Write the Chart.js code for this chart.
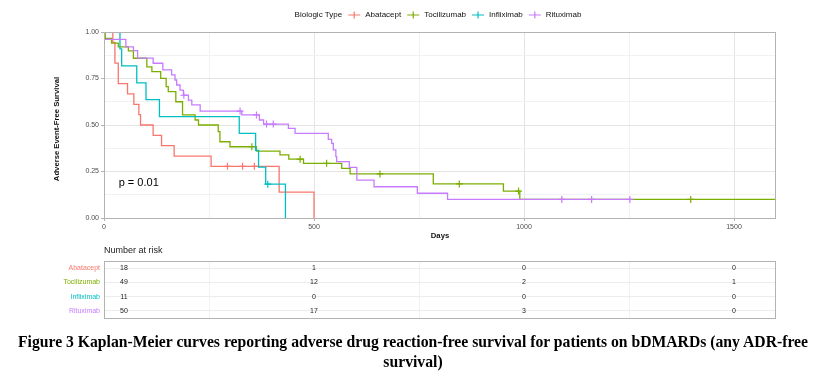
<!DOCTYPE html>
<html>
<head>
<meta charset="utf-8">
<script src="https://cdn.jsdelivr.net/npm/chart.js@4.4.0/dist/chart.umd.min.js"></script>
<style>
  body { margin: 0; background: #fff; }
  #wrap { position: relative; width: 826px; height: 376px; }
  #kmChart { position: absolute; left: 0; top: 0; }
  #riskChart { position: absolute; left: 0; top: 240px; }
  #caption {
    position: absolute; left: 0; top: 332px; width: 826px;
    text-align: center; white-space: nowrap; color: #000;
    font: bold 15.7px "Liberation Serif", "Times New Roman", serif; line-height: 20px;
  }
</style>
</head>
<body>
<div id="wrap">
  <canvas id="kmChart" width="826" height="245"></canvas>
  <canvas id="riskChart" width="826" height="90"></canvas>
  <div id="caption">Figure 3 Kaplan-Meier curves reporting adverse drug reaction-free survival for patients on bDMARDs (any ADR-free<br>survival)</div>
</div>
<script>
// Kaplan-Meier: adverse event-free survival by biologic type
const groups = ['Abatacept', 'Tocilizumab', 'Infliximab', 'Rituximab'];
const groupColors = ['#F8766D', '#7CAE00', '#00BFC4', '#C77CFF'];

// step curves: day of each step and survival after it
const abataceptDays = [0, 21, 26, 34, 56, 71, 83, 87, 117, 137, 167, 255, 417, 500];
const abataceptSurv = [1, 0.944, 0.833, 0.722, 0.667, 0.611, 0.556, 0.5, 0.444, 0.389, 0.333, 0.278, 0.139, 0];
const abataceptCensorDays = [294, 330, 358];
const abataceptCensorSurv = [0.278, 0.278, 0.278];

const tocilizumabDays = [0, 3, 18, 34, 58, 70, 102, 114, 135, 148, 153, 171, 187, 217, 225, 272, 276, 300, 363, 419, 440, 475, 566, 586, 784, 951, 990, 1600];
const tocilizumabSurv = [1, 0.966, 0.94, 0.92, 0.898, 0.859, 0.813, 0.787, 0.751, 0.706, 0.679, 0.625, 0.554, 0.527, 0.5, 0.464, 0.41, 0.383, 0.36, 0.339, 0.316, 0.294, 0.267, 0.237, 0.183, 0.145, 0.1, 0.1];
const tocilizumabCensorDays = [352, 467, 530, 657, 846, 987, 1397];
const tocilizumabCensorSurv = [0.383, 0.316, 0.294, 0.237, 0.183, 0.145, 0.1];

const infliximabDays = [0, 38, 42, 78, 100, 132, 322, 361, 368, 385, 432];
const infliximabSurv = [1, 0.909, 0.818, 0.727, 0.636, 0.545, 0.455, 0.364, 0.273, 0.182, 0];
const infliximabCensorDays = [390];
const infliximabCensorSurv = [0.182];

const rituximabDays = [0, 52, 70, 80, 117, 140, 161, 169, 173, 181, 189, 201, 209, 229, 328, 370, 380, 439, 455, 534, 542, 546, 552, 554, 584, 602, 643, 746, 818, 1252];
const rituximabSurv = [0.96, 0.92, 0.9, 0.86, 0.832, 0.796, 0.769, 0.742, 0.715, 0.688, 0.66, 0.634, 0.608, 0.575, 0.554, 0.527, 0.505, 0.482, 0.455, 0.423, 0.401, 0.366, 0.33, 0.303, 0.272, 0.204, 0.168, 0.133, 0.1, 0.1];
const rituximabCensorDays = [190, 324, 363, 387, 403, 1090, 1161, 1252];
const rituximabCensorSurv = [0.66, 0.575, 0.554, 0.505, 0.505, 0.1, 0.1, 0.1];

// number at risk table
const riskDays = [0, 500, 1000, 1500];
const abataceptRisk = [18, 1, 0, 0];
const tocilizumabRisk = [49, 12, 2, 1];
const infliximabRisk = [11, 0, 0, 0];
const rituximabRisk = [50, 17, 3, 0];

const xTickLabels = [0, 500, 1000, 1500];
const yTickLabels = [0, 0.25, 0.5, 0.75, 1];
const pValueText = 'p = 0.01';

const FONT = '"Liberation Sans", Arial, sans-serif';
const MAJOR_GRID = '#e4e4e4';
const MINOR_GRID = '#f2f2f2';
const BORDER = '#b3b3b3';

const curves = [
  [abataceptDays, abataceptSurv, abataceptCensorDays, abataceptCensorSurv],
  [tocilizumabDays, tocilizumabSurv, tocilizumabCensorDays, tocilizumabCensorSurv],
  [infliximabDays, infliximabSurv, infliximabCensorDays, infliximabCensorSurv],
  [rituximabDays, rituximabSurv, rituximabCensorDays, rituximabCensorSurv]
];

const kmDatasets = [];
curves.forEach(([days, surv, cDays, cSurv], i) => {
  kmDatasets.push({
    label: groups[i],
    data: days.map((d, j) => ({ x: d, y: surv[j] })),
    borderColor: groupColors[i],
    borderWidth: 1.3,
    stepped: true,
    pointRadius: 0,
    fill: false,
    order: 4 - i
  });
  kmDatasets.push({
    label: groups[i] + ' censored',
    data: cDays.map((d, j) => ({ x: d, y: cSurv[j] })),
    showLine: false,
    pointStyle: 'cross',
    pointRadius: 3.5,
    borderColor: groupColors[i],
    borderWidth: 1.2,
    order: 4 - i
  });
});

// legend, titles, p-value and panel border
const kmDecor = {
  id: 'kmDecor',
  afterDraw(chart) {
    const { ctx, chartArea: a, scales } = chart;
    ctx.save();
    ctx.strokeStyle = BORDER;
    ctx.lineWidth = 1;
    ctx.strokeRect(Math.round(a.left) + 0.5, Math.round(a.top) + 0.5,
      Math.round(a.right - a.left) - 1, Math.round(a.bottom - a.top));

    // legend row
    ctx.font = '8px ' + FONT;
    ctx.textBaseline = 'middle';
    ctx.textAlign = 'left';
    const title = 'Biologic Type';
    let total = ctx.measureText(title).width + 6;
    groups.forEach(g => { total += 12 + 5 + ctx.measureText(g).width + 6; });
    let x = 441 - total / 2;
    const ly = 15;
    ctx.fillStyle = '#111';
    ctx.fillText(title, x, ly);
    x += ctx.measureText(title).width + 6;
    groups.forEach((g, i) => {
      ctx.strokeStyle = groupColors[i];
      ctx.lineWidth = 1.2;
      ctx.beginPath();
      ctx.moveTo(x, ly); ctx.lineTo(x + 12, ly);
      ctx.moveTo(x + 6, ly - 3.5); ctx.lineTo(x + 6, ly + 3.5);
      ctx.stroke();
      x += 17;
      ctx.fillStyle = '#111';
      ctx.fillText(g, x, ly);
      x += ctx.measureText(g).width + 6;
    });

    // axis titles
    ctx.font = 'bold 7.7px ' + FONT;
    ctx.textAlign = 'center';
    ctx.fillStyle = '#111';
    ctx.fillText('Days', (a.left + a.right) / 2, 236);
    ctx.translate(57, 129);
    ctx.rotate(-Math.PI / 2);
    ctx.fillText('Adverse Event-Free Survival', 0, 0);
    ctx.setTransform(1, 0, 0, 1, 0, 0);

    // p-value
    ctx.font = '11px ' + FONT;
    ctx.textAlign = 'left';
    ctx.fillStyle = '#000';
    ctx.fillText(pValueText, scales.x.getPixelForValue(35), scales.y.getPixelForValue(0.19));
    ctx.restore();
  }
};

new Chart(document.getElementById('kmChart'), {
  type: 'line',
  data: { datasets: kmDatasets },
  options: {
    responsive: false,
    animation: false,
    layout: { padding: { top: 32, right: 50, bottom: 0, left: 0 } },
    plugins: { legend: { display: false }, tooltip: { enabled: false } },
    scales: {
      x: {
        type: 'linear', min: 0, max: 1600,
        afterFit: s => { s.height = 27; },
        border: { display: false },
        grid: {
          color: c => xTickLabels.includes(c.tick.value) ? MAJOR_GRID : MINOR_GRID,
          tickColor: c => xTickLabels.includes(c.tick.value) ? BORDER : 'rgba(0,0,0,0)',
          tickLength: 3
        },
        ticks: {
          stepSize: 250, includeBounds: false, autoSkip: false, maxRotation: 0, padding: 2,
          font: { family: FONT, size: 7 }, color: '#4d4d4d',
          callback: v => xTickLabels.includes(v) ? String(v) : ''
        }
      },
      y: {
        min: 0, max: 1,
        afterFit: s => { s.width = 104; },
        border: { display: false },
        grid: {
          color: c => yTickLabels.includes(c.tick.value) ? MAJOR_GRID : MINOR_GRID,
          tickColor: c => yTickLabels.includes(c.tick.value) ? BORDER : 'rgba(0,0,0,0)',
          tickLength: 3
        },
        ticks: {
          stepSize: 0.125, autoSkip: false, padding: 2,
          font: { family: FONT, size: 7 }, color: '#4d4d4d',
          callback: v => yTickLabels.includes(v) ? v.toFixed(2) : ''
        }
      }
    }
  },
  plugins: [kmDecor]
});

// number at risk table
const riskRows = [abataceptRisk, tocilizumabRisk, infliximabRisk, rituximabRisk];
const riskDatasets = riskRows.map((row, i) => ({
  label: groups[i],
  data: riskDays.map(d => ({ x: d, y: groups[i] })),
  risk: row,
  pointRadius: 0,
  showLine: false
}));

const riskDecor = {
  id: 'riskDecor',
  afterDraw(chart) {
    const { ctx, chartArea: a } = chart;
    ctx.save();
    ctx.font = '7px ' + FONT;
    ctx.fillStyle = '#222';
    ctx.textAlign = 'center';
    ctx.textBaseline = 'middle';
    chart.data.datasets.forEach((ds, i) => {
      chart.getDatasetMeta(i).data.forEach((pt, j) => {
        ctx.fillText(String(ds.risk[j]), pt.x + (j === 0 ? 20 : 0), pt.y);
      });
    });
    ctx.strokeStyle = BORDER;
    ctx.lineWidth = 1;
    ctx.strokeRect(Math.round(a.left) + 0.5, Math.round(a.top) + 0.5,
      Math.round(a.right - a.left) - 1, Math.round(a.bottom - a.top));
    ctx.font = '9px ' + FONT;
    ctx.textAlign = 'left';
    ctx.fillText('Number at risk', a.left, 11);
    ctx.restore();
  }
};

new Chart(document.getElementById('riskChart'), {
  type: 'line',
  data: { datasets: riskDatasets },
  options: {
    responsive: false,
    animation: false,
    layout: { padding: { top: 21, right: 50, bottom: 0, left: 0 } },
    plugins: { legend: { display: false }, tooltip: { enabled: false } },
    scales: {
      x: {
        type: 'linear', min: 0, max: 1600,
        afterFit: s => { s.height = 12; },
        border: { display: false },
        grid: {
          drawTicks: false,
          color: c => xTickLabels.includes(c.tick.value) ? 'rgba(0,0,0,0)' : MINOR_GRID
        },
        ticks: { display: false, stepSize: 250, includeBounds: false }
      },
      y: {
        type: 'category', labels: groups, offset: true,
        afterFit: s => { s.width = 104; },
        border: { display: false },
        grid: { drawTicks: false, color: '#ececec' },
        ticks: {
          padding: 4,
          font: { family: FONT, size: 7 },
          color: c => groupColors[c.index]
        }
      }
    }
  },
  plugins: [riskDecor]
});
</script>
</body>
</html>
